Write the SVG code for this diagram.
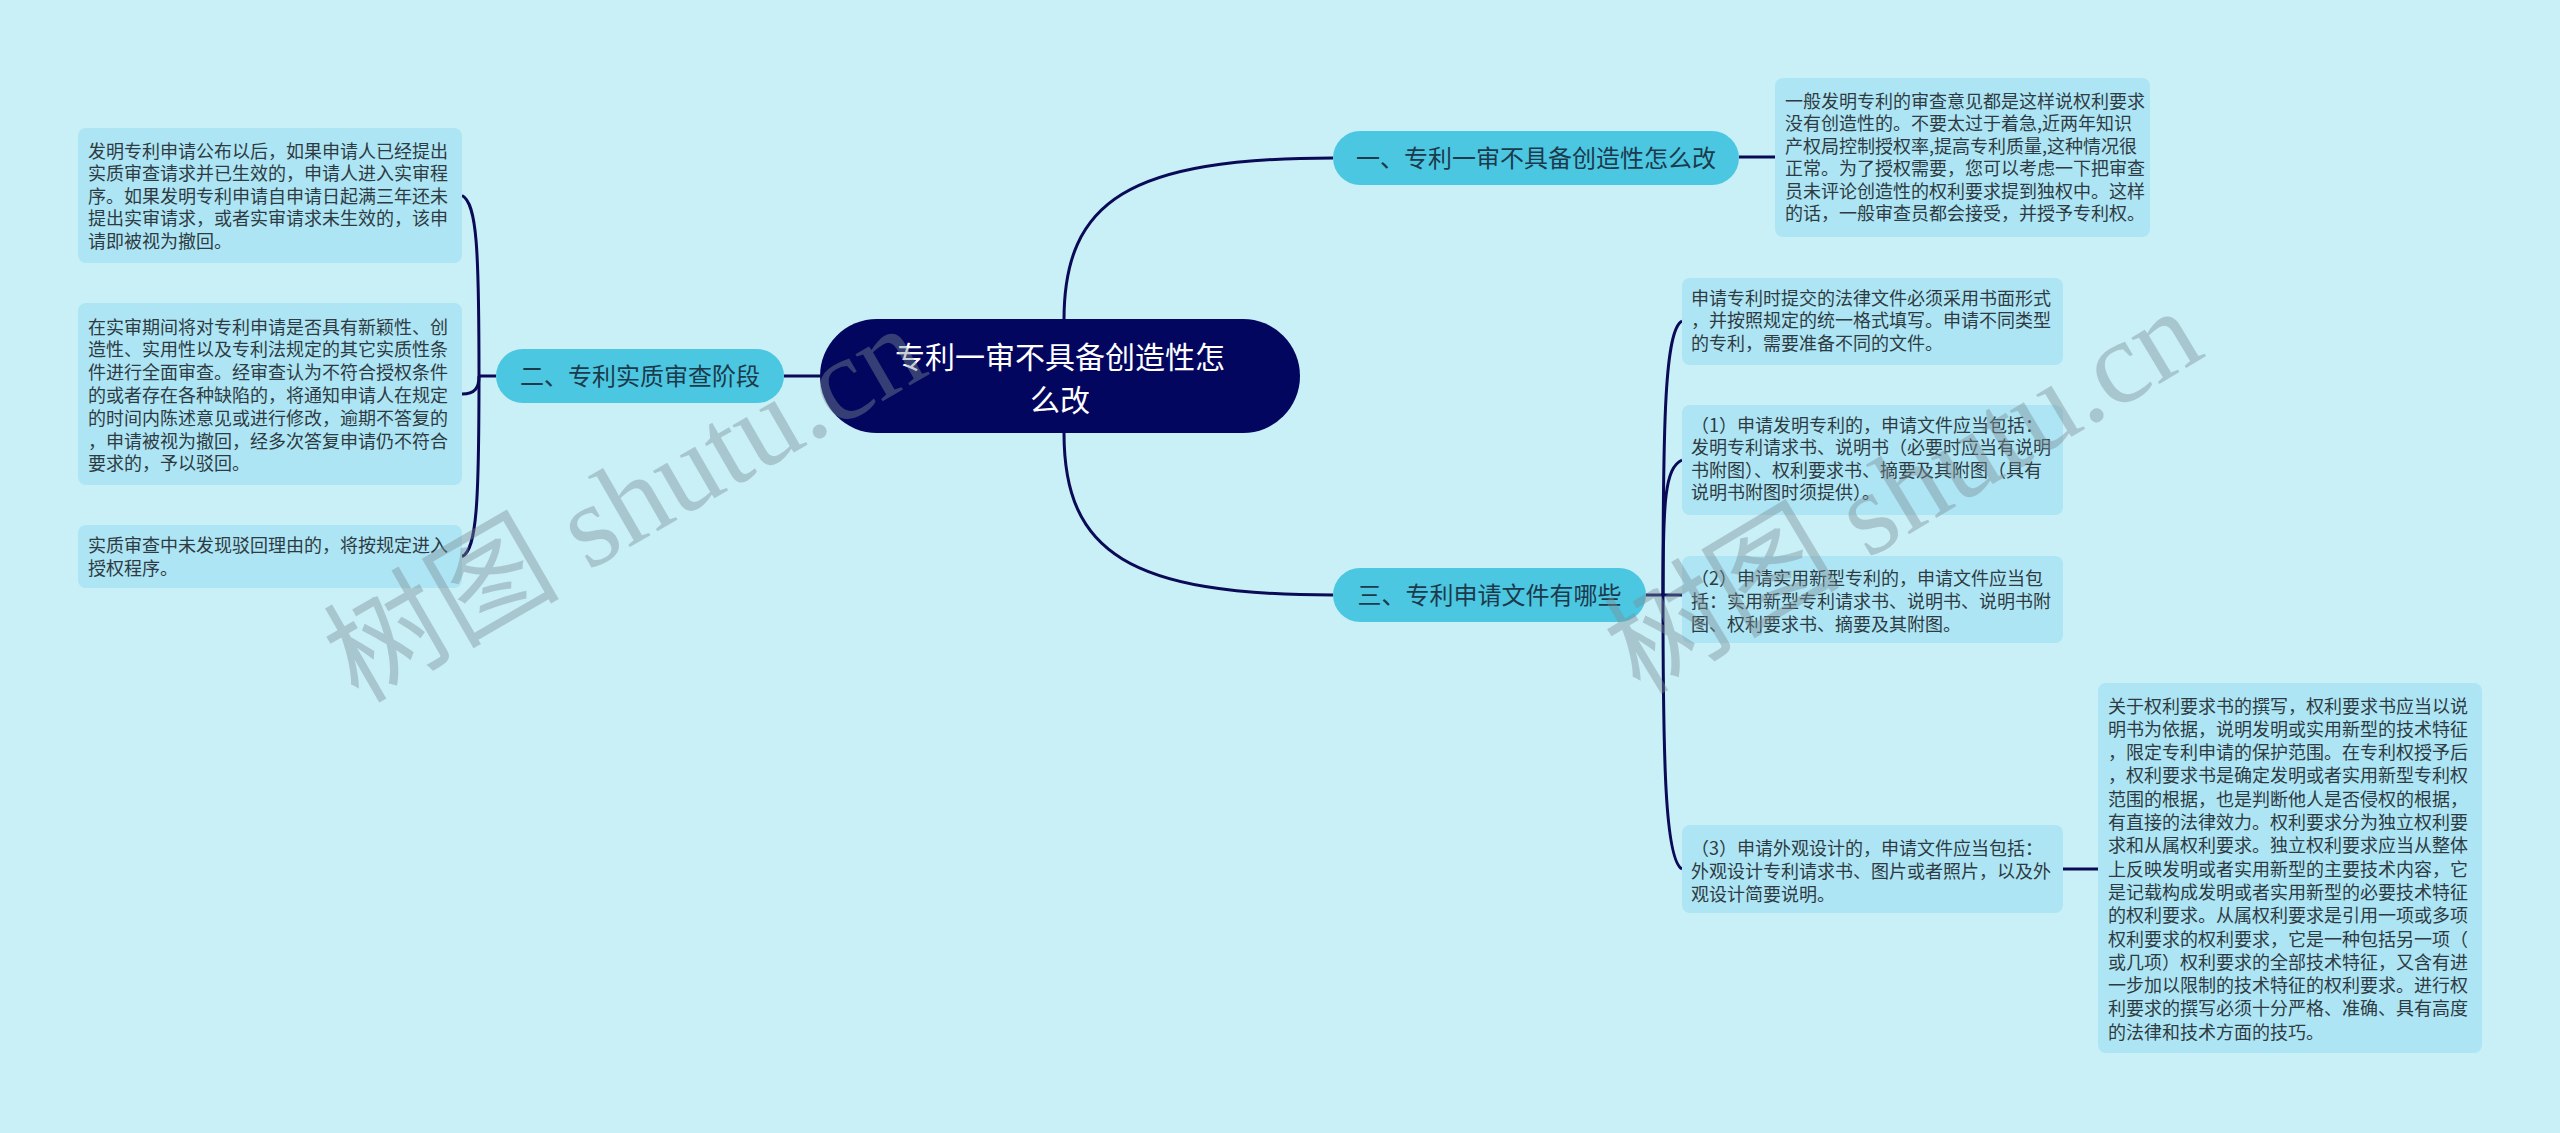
<svg xmlns="http://www.w3.org/2000/svg" width="2560" height="1133" viewBox="0 0 2560 1133">
<style>
.bg{fill:#c9eff7}
.root{fill:#03065e}
.rootT{font-family:"Noto Sans CJK SC","Noto Sans",sans-serif;font-size:30px;fill:#ffffff;text-anchor:middle}
.br{fill:#4bc7e1}
.brT{font-family:"Noto Sans CJK SC","Noto Sans",sans-serif;font-size:24px;fill:#1d3a4c;text-anchor:middle}
.leaf{fill:#ade5f4}
.lfT{font-family:"Noto Sans CJK SC","Noto Sans",sans-serif;font-size:18px;fill:#2f3b42}
.con{fill:none;stroke:#0a0a57;stroke-width:3}
.wm{font-family:"Liberation Serif","Noto Sans CJK SC",serif;font-size:118px;fill:#7d8e96;opacity:0.42}
</style>
<rect class="bg" x="0" y="0" width="2560" height="1133"/>
<g id="connectors">
<path class="con" d="M1064,320 C1064,200 1130,158 1333,158"/>
<path class="con" d="M1064,433 C1064,553 1130,595 1333,595"/>
<path class="con" d="M820,376 L784,376"/>
<path class="con" d="M1739,157 L1775,157"/>
<path class="con" d="M1646,595 L1663,595"/>
<path class="con" d="M1663,595 C1663,420 1665,330 1682,321"/>
<path class="con" d="M1663,595 C1663,500 1665,468 1682,460"/>
<path class="con" d="M1663,595 L1682,595"/>
<path class="con" d="M1663,595 C1663,760 1665,860 1682,869"/>
<path class="con" d="M2063,869 L2098,869"/>
<path class="con" d="M496,376 L479,376"/>
<path class="con" d="M479,376 C479,250 477,203 462,195.5"/>
<path class="con" d="M479,376 C479,388 475,394 462,394"/>
<path class="con" d="M479,376 C479,500 477,550 462,556.5"/>
</g>
<g id="root">
<rect class="root" x="820" y="319" width="480" height="114" rx="57"/>
<text class="rootT" x="1060" y="368">专利一审不具备创造性怎</text>
<text class="rootT" x="1060" y="411">么改</text>
</g>
<g id="b1">
<rect class="br" x="1333" y="131" width="406" height="54" rx="27"/>
<text class="brT" x="1536" y="167">一、专利一审不具备创造性怎么改</text>
</g>
<g id="b2">
<rect class="br" x="496" y="349" width="288" height="54" rx="27"/>
<text class="brT" x="640" y="385">二、专利实质审查阶段</text>
</g>
<g id="b3">
<rect class="br" x="1333" y="568" width="313" height="54" rx="27"/>
<text class="brT" x="1489.5" y="604">三、专利申请文件有哪些</text>
</g>
<g id="l1">
<rect class="leaf" x="78" y="128" width="384" height="135" rx="8"/>
<text class="lfT">
<tspan x="88" y="157.5">发明专利申请公布以后，如果申请人已经提出</tspan>
<tspan x="88" y="180">实质审查请求并已生效的，申请人进入实审程</tspan>
<tspan x="88" y="202.5">序。如果发明专利申请自申请日起满三年还未</tspan>
<tspan x="88" y="225">提出实审请求，或者实审请求未生效的，该申</tspan>
<tspan x="88" y="247.5">请即被视为撤回。</tspan>
</text>
</g>
<g id="l2">
<rect class="leaf" x="78" y="303" width="384" height="182" rx="8"/>
<text class="lfT">
<tspan x="88" y="333.5">在实审期间将对专利申请是否具有新颖性、创</tspan>
<tspan x="88" y="356.3">造性、实用性以及专利法规定的其它实质性条</tspan>
<tspan x="88" y="379.1">件进行全面审查。经审查认为不符合授权条件</tspan>
<tspan x="88" y="401.9">的或者存在各种缺陷的，将通知申请人在规定</tspan>
<tspan x="88" y="424.7">的时间内陈述意见或进行修改，逾期不答复的</tspan>
<tspan x="88" y="447.5">，申请被视为撤回，经多次答复申请仍不符合</tspan>
<tspan x="88" y="470.3">要求的，予以驳回。</tspan>
</text>
</g>
<g id="l3">
<rect class="leaf" x="78" y="525" width="384" height="63" rx="8"/>
<text class="lfT">
<tspan x="88" y="552">实质审查中未发现驳回理由的，将按规定进入</tspan>
<tspan x="88" y="574.5">授权程序。</tspan>
</text>
</g>
<g id="r1">
<rect class="leaf" x="1775" y="78" width="375" height="159" rx="8"/>
<text class="lfT">
<tspan x="1785" y="107.5">一般发明专利的审查意见都是这样说权利要求</tspan>
<tspan x="1785" y="130">没有创造性的。不要太过于着急,近两年知识</tspan>
<tspan x="1785" y="152.5">产权局控制授权率,提高专利质量,这种情况很</tspan>
<tspan x="1785" y="175">正常。为了授权需要，您可以考虑一下把审查</tspan>
<tspan x="1785" y="197.5">员未评论创造性的权利要求提到独权中。这样</tspan>
<tspan x="1785" y="220">的话，一般审查员都会接受，并授予专利权。</tspan>
</text>
</g>
<g id="r2">
<rect class="leaf" x="1682" y="278" width="381" height="87" rx="8"/>
<text class="lfT">
<tspan x="1691" y="304.5">申请专利时提交的法律文件必须采用书面形式</tspan>
<tspan x="1691" y="327">，并按照规定的统一格式填写。申请不同类型</tspan>
<tspan x="1691" y="349.5">的专利，需要准备不同的文件。</tspan>
</text>
</g>
<g id="r3">
<rect class="leaf" x="1682" y="405" width="381" height="110" rx="8"/>
<text class="lfT">
<tspan x="1691" y="431.5">（1）申请发明专利的，申请文件应当包括：</tspan>
<tspan x="1691" y="454">发明专利请求书、说明书（必要时应当有说明</tspan>
<tspan x="1691" y="476.5">书附图）、权利要求书、摘要及其附图（具有</tspan>
<tspan x="1691" y="499">说明书附图时须提供）。</tspan>
</text>
</g>
<g id="r4">
<rect class="leaf" x="1682" y="556" width="381" height="87" rx="8"/>
<text class="lfT">
<tspan x="1691" y="585">（2）申请实用新型专利的，申请文件应当包</tspan>
<tspan x="1691" y="608">括：实用新型专利请求书、说明书、说明书附</tspan>
<tspan x="1691" y="631">图、权利要求书、摘要及其附图。</tspan>
</text>
</g>
<g id="r5">
<rect class="leaf" x="1682" y="825" width="381" height="88" rx="8"/>
<text class="lfT">
<tspan x="1691" y="854.5">（3）申请外观设计的，申请文件应当包括：</tspan>
<tspan x="1691" y="877.5">外观设计专利请求书、图片或者照片，以及外</tspan>
<tspan x="1691" y="900.5">观设计简要说明。</tspan>
</text>
</g>
<g id="r6">
<rect class="leaf" x="2098" y="683" width="384" height="370" rx="8"/>
<text class="lfT">
<tspan x="2108" y="712.5">关于权利要求书的撰写，权利要求书应当以说</tspan>
<tspan x="2108" y="735.8">明书为依据，说明发明或实用新型的技术特征</tspan>
<tspan x="2108" y="759.1">，限定专利申请的保护范围。在专利权授予后</tspan>
<tspan x="2108" y="782.4">，权利要求书是确定发明或者实用新型专利权</tspan>
<tspan x="2108" y="805.7">范围的根据，也是判断他人是否侵权的根据，</tspan>
<tspan x="2108" y="829">有直接的法律效力。权利要求分为独立权利要</tspan>
<tspan x="2108" y="852.3">求和从属权利要求。独立权利要求应当从整体</tspan>
<tspan x="2108" y="875.6">上反映发明或者实用新型的主要技术内容，它</tspan>
<tspan x="2108" y="898.9">是记载构成发明或者实用新型的必要技术特征</tspan>
<tspan x="2108" y="922.2">的权利要求。从属权利要求是引用一项或多项</tspan>
<tspan x="2108" y="945.5">权利要求的权利要求，它是一种包括另一项（</tspan>
<tspan x="2108" y="968.8">或几项）权利要求的全部技术特征，又含有进</tspan>
<tspan x="2108" y="992.1">一步加以限制的技术特征的权利要求。进行权</tspan>
<tspan x="2108" y="1015.4">利要求的撰写必须十分严格、准确、具有高度</tspan>
<tspan x="2108" y="1038.7">的法律和技术方面的技巧。</tspan>
</text>
</g>
<g id="watermarks">
<text class="wm" transform="translate(358,704) rotate(-30)">树图 shutu.cn</text>
<text class="wm" transform="translate(1640,696) rotate(-31)">树图 shutu.cn</text>
</g>
</svg>
